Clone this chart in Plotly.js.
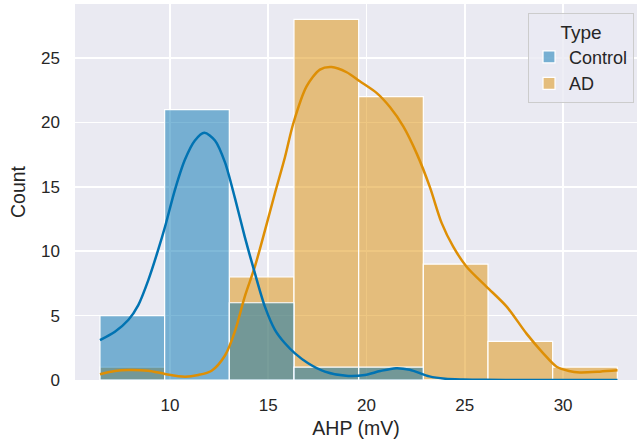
<!DOCTYPE html>
<html>
<head>
<meta charset="utf-8">
<script src="https://cdn.plot.ly/plotly-3.0.1.min.js"></script>
<style>html,body{margin:0;padding:0;background:#fff;}#chart{width:639px;height:444px;}</style>
</head>
<body>
<div id="chart"></div>
<script>
// Histogram bins (AHP, mV)
const binEdges = [6.44, 9.73, 13.02, 16.31, 19.60, 22.89, 26.18, 29.47, 32.76];
const controlCounts = [5, 21, 6, 1, 1, 0, 0, 0];
const adCounts = [1, 0, 8, 28, 22, 9, 3, 1];

// KDE curves (scaled to counts)
const controlKdeX = [6.44, 7.2, 7.88, 8.39, 8.9, 9.4, 9.75, 10.25, 10.76, 11.27, 11.75, 12.29, 12.8, 13.31, 13.81, 14.32, 14.83, 15.34, 15.85, 16.36, 17.03, 17.88, 19.07, 19.92, 20.7, 21.5, 22.2, 23.2, 24.0, 24.9, 26, 28, 30, 32.77];
const controlKdeY = [3.1, 3.75, 4.66, 5.82, 7.76, 10.1, 11.9, 14.75, 17.1, 18.6, 19.2, 18.6, 16.9, 14.1, 11.1, 8.3, 5.7, 3.9, 2.85, 2.07, 1.3, 0.65, 0.31, 0.39, 0.7, 0.92, 0.8, 0.28, 0.1, 0.04, 0.01, 0, 0, 0];
const adKdeX = [6.44, 7.2, 7.88, 8.9, 9.75, 10.76, 11.44, 12.12, 12.8, 13.31, 13.81, 14.32, 14.83, 15.34, 15.85, 16.27, 16.95, 17.63, 18.22, 18.99, 19.66, 20.51, 21.19, 21.87, 22.55, 23.22, 23.82, 24.41, 25.09, 26.11, 27.13, 28.14, 28.99, 29.67, 30.3, 30.85, 31.87, 32.77];
const adKdeY = [0.45, 0.7, 0.78, 0.72, 0.47, 0.26, 0.39, 0.72, 1.9, 3.8, 6.5, 8.8, 11.6, 14.5, 17.3, 19.9, 22.8, 24.1, 24.3, 23.9, 23.2, 22.3, 21.2, 19.7, 17.6, 15.0, 12.2, 10.35, 8.8, 7.24, 5.7, 3.6, 2.07, 1.03, 0.7, 0.59, 0.65, 0.75];

const seriesNames = ['Control', 'AD'];
const xTicks = [10, 15, 20, 25, 30];
const yTicks = [0, 5, 10, 15, 20, 25];

const centers = binEdges.slice(0, -1).map((e, i) => (e + binEdges[i + 1]) / 2);
const widths = binEdges.slice(0, -1).map((e, i) => binEdges[i + 1] - e);

const BLUE = '#0173B2', ORANGE = '#DE8F05';

const traces = [
  {type: 'bar', name: seriesNames[1], x: centers, y: adCounts, width: widths,
   marker: {color: 'rgba(222,143,5,0.5)', line: {color: '#ffffff', width: 1.2}}, hoverinfo: 'skip'},
  {type: 'bar', name: seriesNames[0], x: centers, y: controlCounts, width: widths,
   marker: {color: 'rgba(1,115,178,0.5)', line: {color: '#ffffff', width: 1.2}}, hoverinfo: 'skip'},
  {type: 'scatter', mode: 'lines', x: adKdeX, y: adKdeY, showlegend: false,
   line: {color: ORANGE, width: 2.5, shape: 'spline', smoothing: 0.8}},
  {type: 'scatter', mode: 'lines', x: controlKdeX, y: controlKdeY, showlegend: false,
   line: {color: BLUE, width: 2.5, shape: 'spline', smoothing: 0.8}}
];

const layout = {
  width: 639, height: 444,
  margin: {l: 75, r: 2, t: 4, b: 64},
  paper_bgcolor: '#ffffff', plot_bgcolor: '#EAEAF2',
  barmode: 'overlay', bargap: 0,
  font: {family: '"Liberation Sans", Arial, sans-serif', color: '#262626'},
  xaxis: {range: [5.17, 33.76], tickvals: xTicks, ticktext: xTicks.map(String),
    showgrid: true, gridcolor: '#ffffff', gridwidth: 1.5, zeroline: false,
    ticks: '', ticklabelstandoff: 13, tickfont: {size: 17, color: '#262626'},
    title: {text: 'AHP (mV)', font: {size: 19.5, color: '#262626'}, standoff: 7}},
  yaxis: {range: [0, 29.2], tickvals: yTicks, ticktext: yTicks.map(String),
    showgrid: true, gridcolor: '#ffffff', gridwidth: 1.5, zeroline: false,
    ticks: '', ticklabelstandoff: 14, tickfont: {size: 17, color: '#262626'},
    title: {text: 'Count', font: {size: 19.5, color: '#262626'}, standoff: 10}},
  legend: {x: 0.9947, xanchor: 'right', y: 0.976, yanchor: 'top',
    traceorder: 'reversed', bgcolor: 'rgba(234,234,242,0.8)', bordercolor: '#CCCCCC', borderwidth: 1,
    font: {size: 18, color: '#262626'},
    title: {text: 'Type', side: 'top center', font: {size: 19, color: '#262626'}}},
  showlegend: true
};

Plotly.newPlot('chart', traces, layout, {displayModeBar: false, staticPlot: true});
</script>
</body>
</html>
